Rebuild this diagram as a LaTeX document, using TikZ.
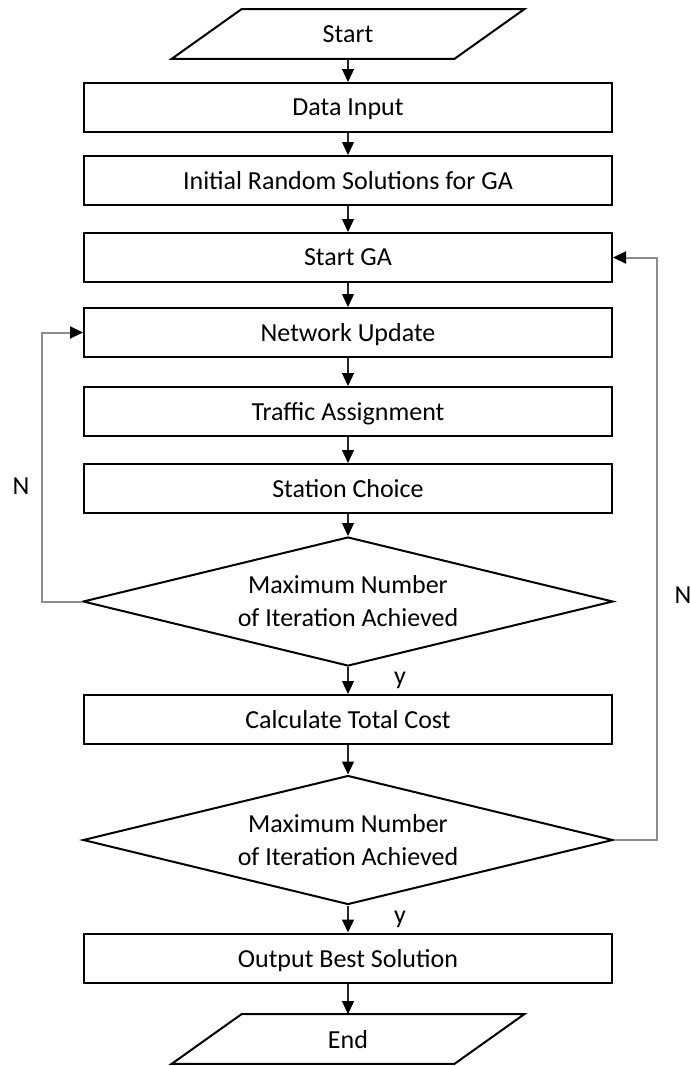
\documentclass[tikz,border=0pt]{standalone}
\usepackage{fontspec}
\setmainfont{Carlito}
\usetikzlibrary{shapes.geometric,arrows.meta}

\tikzset{
  procbox/.style={draw=black, line width=1pt, minimum width=264pt, minimum height=24.5pt, inner sep=0pt, text depth=0pt},
  decision/.style={diamond, draw=black, line width=1pt, aspect=4, minimum width=265pt, minimum height=64.5pt, inner sep=0pt, align=center},
  iobox/.style={minimum width=141pt, minimum height=24.5pt, inner sep=0pt, text depth=0pt},
  flow/.style={black!85, line width=0.6pt, -{Triangle[length=6.5pt,width=6pt,color=black]}},
  loopback/.style={black!45, line width=1pt, -{Triangle[length=6.5pt,width=6pt,color=black]}},
}

\begin{document}
\begin{tikzpicture}[x=0.5pt,y=-0.5pt,font=\fontsize{13}{16.5}\selectfont]
\useasboundingbox (0,0) rectangle (690,1066);

% start / end
\node[iobox] (start) at (348,34) {Start};
\draw[line width=1pt] ([xshift=-17.5pt]start.south west) -- ([xshift=-17.5pt]start.south east)
  -- ([xshift=17.5pt]start.north east) -- ([xshift=17.5pt]start.north west) -- cycle;

% process steps
\node[procbox] (data) at (348,107.5) {Data Input};
\node[procbox] (init) at (348,180.5) {Initial Random Solutions for GA};
\node[procbox] (ga) at (348,257.5) {Start GA};
\node[procbox] (net) at (348,332.5) {Network Update};
\node[procbox] (traf) at (348,411.5) {Traffic Assignment};
\node[procbox] (stat) at (348,488.5) {Station Choice};
\node[decision] (dec1) at (348,601.5) {Maximum Number\\of Iteration Achieved};
\node[procbox] (calc) at (348,719.5) {Calculate Total Cost};
\node[decision] (dec2) at (348,840) {Maximum Number\\of Iteration Achieved};
\node[procbox] (out) at (348,958) {Output Best Solution};

\node[iobox] (end) at (348,1039) {End};
\draw[line width=1pt] ([xshift=-17.5pt]end.south west) -- ([xshift=-17.5pt]end.south east)
  -- ([xshift=17.5pt]end.north east) -- ([xshift=17.5pt]end.north west) -- cycle;

% main flow
\draw[flow] (start) -- (data);
\draw[flow] (data) -- (init);
\draw[flow] (init) -- (ga);
\draw[flow] (ga) -- (net);
\draw[flow] (net) -- (traf);
\draw[flow] (traf) -- (stat);
\draw[flow] (stat) -- (dec1);
\draw[flow] (dec1) -- (calc);
\draw[flow] (calc) -- (dec2);
\draw[flow] (dec2) -- (out);
\draw[flow] (out) -- (end);

% loops
\draw[loopback] (dec1.west) -- ++(-40,0) |- (net.west);
\draw[loopback] (dec2.east) -- ++(43,0) |- (ga.east);

% labels
\node (nleft) at (21,486) {N};
\node (nright) at (683,595) {N};
\node (yes1) at (400,680) {y};
\node (yes2) at (400,919) {y};
\end{tikzpicture}
\end{document}
